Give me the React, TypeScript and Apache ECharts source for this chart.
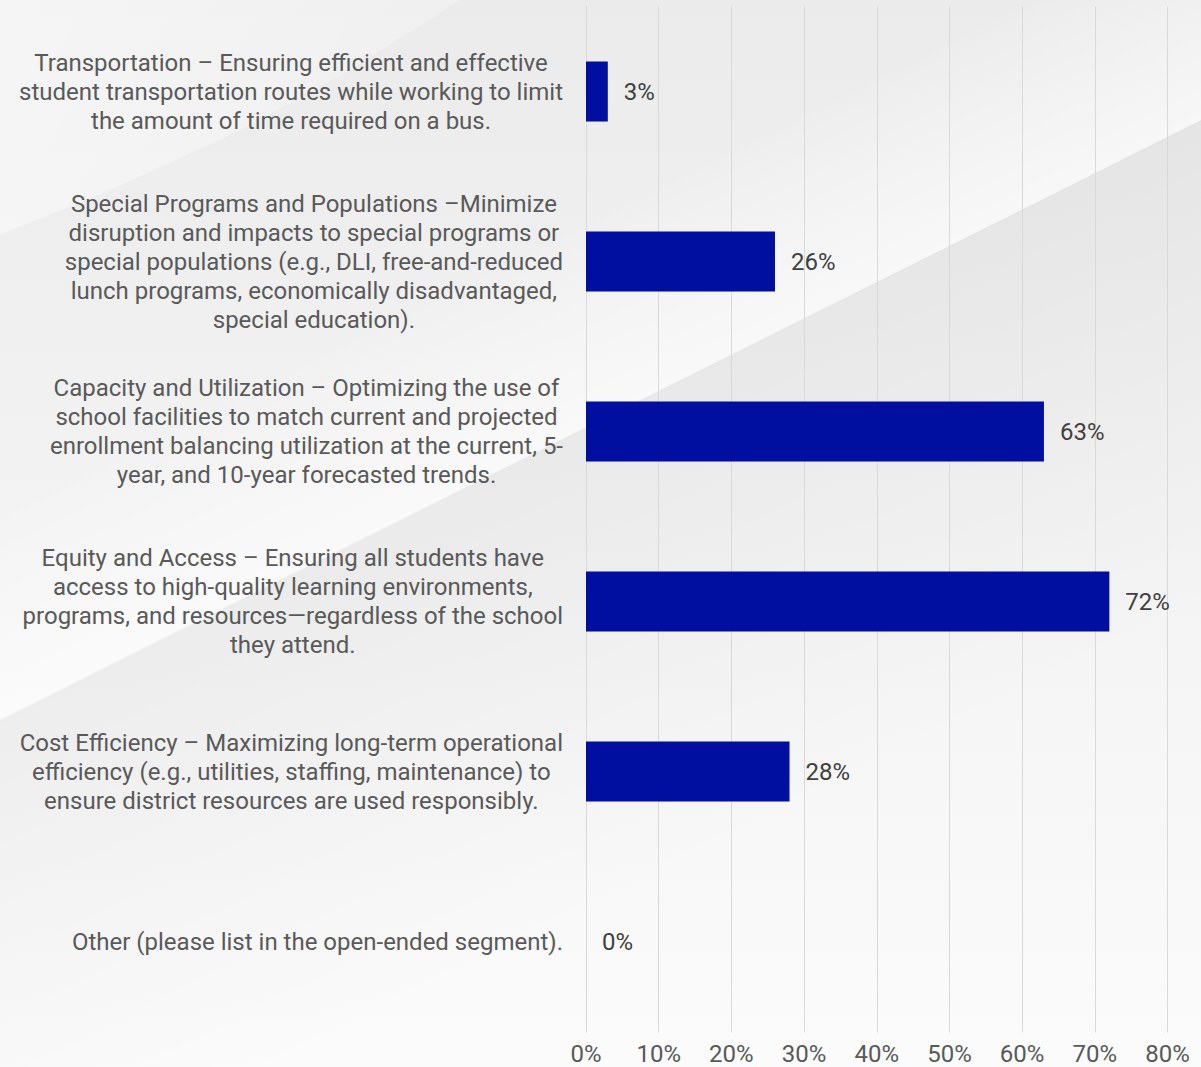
import React, { useEffect, useRef } from "react";
import * as echarts from "echarts";

const categories: string[] = [
  "Transportation – Ensuring efficient and effective\nstudent transportation routes while working to limit\nthe amount of time required on a bus.",
  "Special Programs and Populations –Minimize\ndisruption and impacts to special programs or\nspecial populations (e.g., DLI, free-and-reduced\nlunch programs, economically disadvantaged,\nspecial education).",
  "Capacity and Utilization – Optimizing the use of\nschool facilities to match current and projected\nenrollment balancing utilization at the current, 5-\nyear, and 10-year forecasted trends.",
  "Equity and Access – Ensuring all students have\naccess to high-quality learning environments,\nprograms, and resources—regardless of the school\nthey attend.",
  "Cost Efficiency – Maximizing long-term operational\nefficiency (e.g., utilities, staffing, maintenance) to\nensure district resources are used responsibly.",
  "Other (please list in the open-ended segment).",
];

const values: number[] = [3, 26, 63, 72, 28, 0];

const axisMin = 0;
const axisMax = 80;
const axisInterval = 10;

export default function App() {
  const ref = useRef<HTMLDivElement>(null);

  useEffect(() => {
    if (!ref.current) return;
    const chart = echarts.init(ref.current, null, { renderer: "svg" });

    const mid = [600, 420];
    const n = [0.447, 0.8945];

    const option: any = {
      animation: false,
      textStyle: { fontFamily: "Roboto" },
      graphic: [
        {
          type: "rect",
          z: -100,
          silent: true,
          shape: { x: 0, y: 0, width: 1201, height: 1067 },
          style: {
            fill: new echarts.graphic.LinearGradient(0, 0, 0, 1, [
              { offset: 0, color: "#ebebeb" },
              { offset: 1, color: "#fbfbfb" },
            ]),
          },
        },
        {
          type: "polygon",
          z: -99,
          silent: true,
          shape: {
            points: [
              [0, 0],
              [460, 0],
              [350, 70],
              [230, 135],
              [110, 190],
              [0, 235],
            ],
          },
          style: {
            fill: new echarts.graphic.LinearGradient(
              0,
              0,
              300,
              200,
              [
                { offset: 0, color: "rgba(255,255,255,0.5)" },
                { offset: 1, color: "rgba(255,255,255,0.25)" },
              ],
              true
            ),
          },
        },
        {
          type: "polygon",
          z: -99,
          silent: true,
          shape: {
            points: [
              [0, 520],
              [1201, -80],
              [1201, 120],
              [0, 720],
            ],
          },
          style: {
            fill: new echarts.graphic.LinearGradient(
              mid[0] - 200 * n[0],
              mid[1] - 200 * n[1],
              mid[0],
              mid[1],
              [
                { offset: 0, color: "rgba(255,255,255,0)" },
                { offset: 1, color: "rgba(255,255,255,0.55)" },
              ],
              true
            ),
          },
        },
        {
          type: "polygon",
          z: -99,
          silent: true,
          shape: {
            points: [
              [0, 720],
              [1201, 120],
              [1201, 1067],
              [0, 1067],
            ],
          },
          style: {
            fill: new echarts.graphic.LinearGradient(
              mid[0],
              mid[1],
              mid[0] + 450 * n[0],
              mid[1] + 450 * n[1],
              [
                { offset: 0, color: "rgba(0,0,0,0.035)" },
                { offset: 1, color: "rgba(0,0,0,0)" },
              ],
              true
            ),
          },
        },
      ],
      grid: {
        left: 586,
        right: 33.5,
        top: 6.5,
        bottom: 40.5,
        containLabel: false,
      },
      xAxis: {
        type: "value",
        min: axisMin,
        max: axisMax,
        interval: axisInterval,
        axisLine: { show: false },
        axisTick: {
          show: true,
          length: 6,
          lineStyle: { color: "#d9d9d9", width: 1 },
        },
        splitLine: { show: true, lineStyle: { color: "#d9d9d9", width: 1 } },
        axisLabel: {
          formatter: "{value}%",
          color: "#595959",
          fontSize: 24,
          fontFamily: "Roboto",
          margin: 15,
        },
      },
      yAxis: {
        type: "category",
        inverse: true,
        data: categories,
        axisLine: { show: true, lineStyle: { color: "#d9d9d9", width: 1 } },
        axisTick: { show: false },
        splitLine: { show: false },
        axisLabel: {
          interval: 0,
          margin: 23,
          align: "right",
          color: "#595959",
          fontSize: 24,
          fontFamily: "Roboto",
          lineHeight: 29,
          formatter: (v: string) =>
            v
              .split("\n")
              .map((l) => "{c|" + l + "}")
              .join("\n"),
          rich: {
            c: {
              align: "center",
              color: "#595959",
              fontSize: 24,
              fontFamily: "Roboto",
              lineHeight: 29,
            },
          },
        },
      },
      series: [
        {
          type: "bar",
          data: values,
          barWidth: 60,
          itemStyle: { color: "#000f9f" },
          label: {
            show: true,
            position: "right",
            distance: 16,
            formatter: "{c}%",
            color: "#404040",
            fontSize: 24,
            fontFamily: "Roboto",
          },
        },
      ],
    };

    chart.setOption(option);
    return () => chart.dispose();
  }, []);

  return (
    <div
      ref={ref}
      style={{ position: "absolute", left: 0, top: 0, width: 1201, height: 1067 }}
    />
  );
}
